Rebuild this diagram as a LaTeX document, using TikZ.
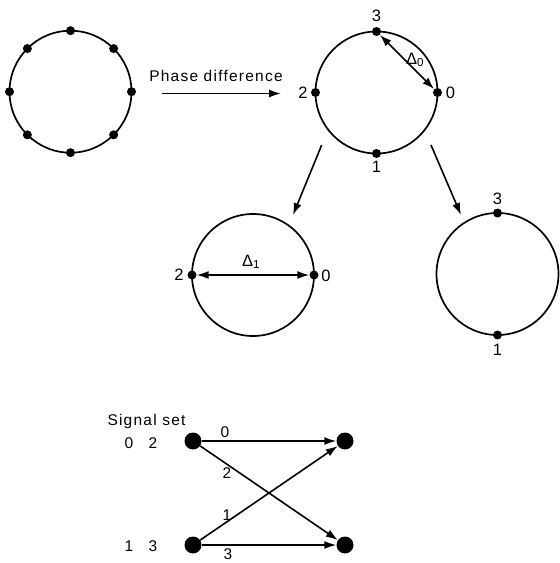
\documentclass[tikz,border=0pt]{standalone}
\usepackage{fontspec}
\setmainfont{Liberation Sans}[LetterSpace=8]
\usetikzlibrary{arrows.meta}
\begin{document}
\begin{tikzpicture}[x=1pt,y=-1pt,
 ring/.style={draw,circle,line width=1.7pt,minimum size=122pt,inner sep=0pt,outer sep=0pt},
 dot/.style={fill,circle,inner sep=0pt,minimum size=9pt},
 bigdot/.style={fill,circle,inner sep=0pt,minimum size=17pt},
 arr/.style={line width=1.6pt,-{Latex[length=12pt,width=8pt]}},
 darr/.style={line width=1.6pt,{Latex[length=12pt,width=8pt]}-{Latex[length=12pt,width=8pt]}},
 lbl/.style={font=\fontsize{16.5}{16.5}\selectfont,inner sep=0pt},
 txt/.style={font=\fontsize{15.5}{15.5}\selectfont,inner sep=0pt}]
\useasboundingbox (0,0) rectangle (560,563);
% circle 1 with eight points
\node[ring] (c1) at (70.5,91.7) {};
\foreach \a in {0,45,...,315} \node[dot] (c1d\a) at (c1.\a) {};
% phase difference arrow
\node[txt] (ph) at (216,76) {Phase difference};
\coordinate (pa) at (162,93.5);
\coordinate (pb) at (281,93.5);
\draw[arr] (pa) -- (pb);
% circle 2
\node[ring] (c2) at (376.5,92.5) {};
\node[dot] (c2d0) at (c2.0) {};
\node[dot] (c2d1) at (c2.270) {};
\node[dot] (c2d2) at (c2.180) {};
\node[dot] (c2d3) at (c2.90) {};
\node[lbl] (c2l3) at (376.5,16) {3};
\node[lbl] (c2l2) at (303,92.5) {2};
\node[lbl] (c2l0) at (450.5,92.5) {0};
\node[lbl] (c2l1) at (376.5,167) {1};
\draw[darr] (c2d3) -- (c2d0);
\node[lbl] (dl0) at (415,60) {Δ\textsubscript{0}};
% arrows down
\coordinate (dl1) at (321.7,145);
\coordinate (dl2) at (293,215);
\coordinate (dr1) at (431,145);
\coordinate (dr2) at (461,215);
\draw[arr] (dl1) -- (dl2);
\draw[arr] (dr1) -- (dr2);
% circle 3
\node[ring] (c3) at (253,275) {};
\node[dot] (c3d0) at (c3.0) {};
\node[dot] (c3d2) at (c3.180) {};
\node[lbl] (c3l2) at (179,275) {2};
\node[lbl] (c3l0) at (326,275.5) {0};
\draw[darr] (c3d2) -- (c3d0);
\node[lbl] (dl1t) at (251,262) {Δ\textsubscript{1}};
% circle 4
\node[ring] (c4) at (497.5,274) {};
\node[dot] (c4d3) at (c4.90) {};
\node[dot] (c4d1) at (c4.270) {};
\node[lbl] (c4l3) at (497.5,199) {3};
\node[lbl] (c4l1) at (497.5,350) {1};
% signal set
\node[txt] (ss) at (146.5,421) {Signal set};
\node[txt] (s0) at (129,443) {0};
\node[txt] (s2) at (153,443) {2};
\node[txt] (s1) at (129,546) {1};
\node[txt] (s3) at (153,546) {3};
\node[bigdot] (a0) at (193,441) {};
\node[bigdot] (a1) at (193,545) {};
\node[bigdot] (b0) at (345,441) {};
\node[bigdot] (b1) at (345,545) {};
\draw[arr] (a0) -- (b0);
\draw[arr] (a0) -- (b1);
\draw[arr] (a1) -- (b0);
\draw[arr] (a1) -- (b1);
\node[txt] (e0) at (225,432) {0};
\node[txt] (e2) at (227,473) {2};
\node[txt] (e1) at (227,515) {1};
\node[txt] (e3) at (228,554) {3};
\end{tikzpicture}
\end{document}
